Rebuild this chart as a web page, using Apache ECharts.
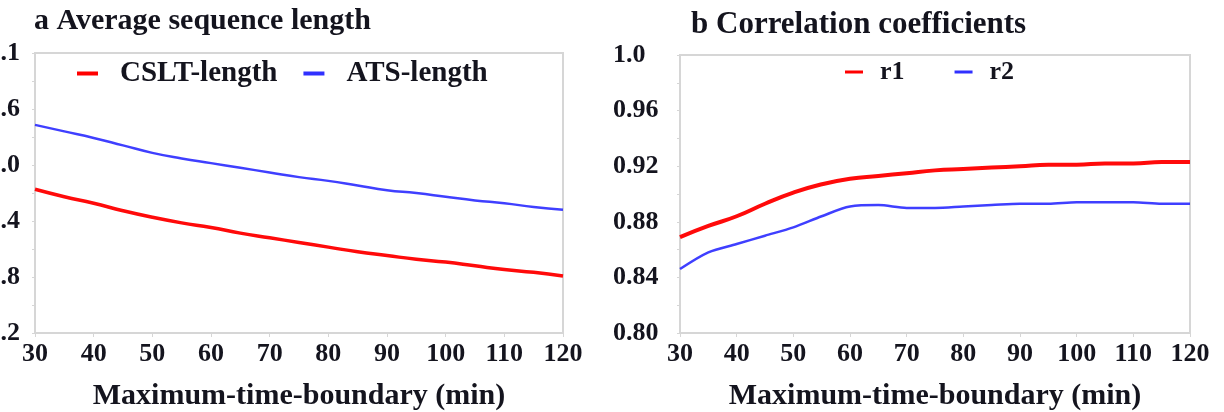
<!DOCTYPE html>
<html>
<head>
<meta charset="utf-8">
<script src="https://cdn.jsdelivr.net/npm/echarts@6/dist/echarts.min.js"></script>
<style>
  html, body { margin: 0; padding: 0; background: #fff; }
  #main { width: 1224px; height: 412px; }
</style>
</head>
<body>
<div id="main"></div>
<script>
// x values (Maximum-time-boundary, min)
const xValues = [30, 35, 40, 45, 50, 55, 60, 65, 70, 75, 80, 85, 90, 95, 100, 105, 110, 115, 120]

// a: average sequence length
const csltLength = [2.74, 2.66, 2.59, 2.51, 2.44, 2.38, 2.33, 2.27, 2.22, 2.17, 2.12, 2.07, 2.03, 1.99, 1.96, 1.92, 1.88, 1.85, 1.81]
const atsLength = [3.43, 3.36, 3.29, 3.21, 3.13, 3.07, 3.02, 2.97, 2.92, 2.87, 2.83, 2.78, 2.73, 2.70, 2.66, 2.62, 2.59, 2.55, 2.52]

// b: correlation coefficients
const r1 = [0.869, 0.877, 0.884, 0.893, 0.901, 0.907, 0.911, 0.913, 0.915, 0.917, 0.918, 0.919, 0.920, 0.921, 0.921, 0.922, 0.922, 0.923, 0.923]
const r2 = [0.846, 0.858, 0.864, 0.870, 0.876, 0.884, 0.891, 0.892, 0.890, 0.890, 0.891, 0.892, 0.893, 0.893, 0.894, 0.894, 0.894, 0.893, 0.893]

// tick labels (left panel labels are cut at the image edge)
const leftYTicks = ['.2', '.8', '.4', '.0', '.6', '.1']
const rightYTicks = ['0.80', '0.84', '0.88', '0.92', '0.96', '1.0']

const serif = '"Liberation Serif", "Times New Roman", serif'
const frameColor = '#d6d6d6'
const textColor = '#14141e'

function pairs(ys) {
  return xValues.map((x, i) => [x, ys[i]])
}

function xAxisFor(gridIndex) {
  return {
    type: 'value',
    gridIndex: gridIndex,
    min: 30,
    max: 120,
    interval: 10,
    name: 'Maximum-time-boundary (min)',
    nameLocation: 'middle',
    nameGap: 48,
    nameTextStyle: { fontFamily: serif, fontWeight: 'bold', fontSize: 30, color: textColor },
    axisLine: { show: true, lineStyle: { color: frameColor, width: 2 } },
    axisTick: { show: true, length: 4, lineStyle: { color: frameColor } },
    splitLine: { show: false },
    axisLabel: { margin: 8, fontFamily: serif, fontWeight: 'bold', fontSize: 26, color: textColor }
  }
}

const chart = echarts.init(document.getElementById('main'))
const option = {
  backgroundColor: '#fff',
  animation: false,
  title: [{
    text: 'a Average sequence length',
    left: 29,
    top: 1,
    textStyle: { fontFamily: serif, fontWeight: 'bold', fontSize: 30, color: textColor }
  }, {
    text: 'b Correlation coefficients',
    left: 686,
    top: 4,
    textStyle: { fontFamily: serif, fontWeight: 'bold', fontSize: 31, color: textColor }
  }],
  legend: [{
    data: ['CSLT-length', 'ATS-length'],
    left: 72,
    top: 54,
    icon: 'rect',
    itemWidth: 21,
    itemHeight: 4,
    itemGap: 26,
    textStyle: { fontFamily: serif, fontWeight: 'bold', fontSize: 29, color: textColor, padding: [0, 0, 0, 17] }
  }, {
    data: ['r1', 'r2'],
    left: 840,
    top: 54,
    icon: 'rect',
    itemWidth: 18,
    itemHeight: 3,
    itemGap: 50,
    textStyle: { fontFamily: serif, fontWeight: 'bold', fontSize: 26, color: textColor, padding: [0, 0, 0, 12] }
  }],
  grid: [{
    left: 35, top: 53, width: 528, height: 280,
    show: true, borderColor: frameColor, borderWidth: 2,
    outerBoundsMode: 'none'
  }, {
    left: 680, top: 55, width: 510, height: 278,
    show: true, borderColor: frameColor, borderWidth: 2,
    outerBoundsMode: 'none'
  }],
  xAxis: [xAxisFor(0), xAxisFor(1)],
  yAxis: [{
    type: 'value',
    gridIndex: 0,
    min: 1.2,
    max: 4.2,
    interval: 0.6,
    axisLine: { show: true, lineStyle: { color: frameColor, width: 2 } },
    axisTick: { show: true, length: 3, lineStyle: { color: frameColor } },
    minorTick: { show: true, splitNumber: 2, length: 3, lineStyle: { color: frameColor } },
    splitLine: { show: false },
    axisLabel: {
      margin: 15,
      fontFamily: serif, fontWeight: 'bold', fontSize: 26, color: textColor,
      formatter: v => leftYTicks[Math.round((v - 1.2) / 0.6)]
    }
  }, {
    type: 'value',
    gridIndex: 1,
    min: 0.8,
    max: 1.0,
    interval: 0.04,
    axisLine: { show: true, lineStyle: { color: frameColor, width: 2 } },
    axisTick: { show: true, length: 3, lineStyle: { color: frameColor } },
    minorTick: { show: true, splitNumber: 2, length: 3, lineStyle: { color: frameColor } },
    splitLine: { show: false },
    axisLabel: {
      margin: 67,
      align: 'left',
      fontFamily: serif, fontWeight: 'bold', fontSize: 26, color: textColor,
      formatter: v => rightYTicks[Math.round((v - 0.8) / 0.04)]
    }
  }],
  series: [{
    name: 'CSLT-length',
    type: 'line',
    xAxisIndex: 0,
    yAxisIndex: 0,
    data: pairs(csltLength),
    smooth: true,
    showSymbol: false,
    color: '#ff0000',
    lineStyle: { color: '#ff0a0a', width: 3.5 }
  }, {
    name: 'ATS-length',
    type: 'line',
    xAxisIndex: 0,
    yAxisIndex: 0,
    data: pairs(atsLength),
    smooth: true,
    showSymbol: false,
    color: '#3030ff',
    lineStyle: { color: '#2a2aff', width: 2.5, opacity: 0.9 }
  }, {
    name: 'r1',
    type: 'line',
    xAxisIndex: 1,
    yAxisIndex: 1,
    data: pairs(r1),
    smooth: true,
    showSymbol: false,
    color: '#ff0000',
    lineStyle: { color: '#ff0a0a', width: 4 }
  }, {
    name: 'r2',
    type: 'line',
    xAxisIndex: 1,
    yAxisIndex: 1,
    data: pairs(r2),
    smooth: 0.3,
    showSymbol: false,
    color: '#3030ff',
    lineStyle: { color: '#2a2aff', width: 2.5, opacity: 0.9 }
  }]
}
chart.setOption(option)
</script>
</body>
</html>
